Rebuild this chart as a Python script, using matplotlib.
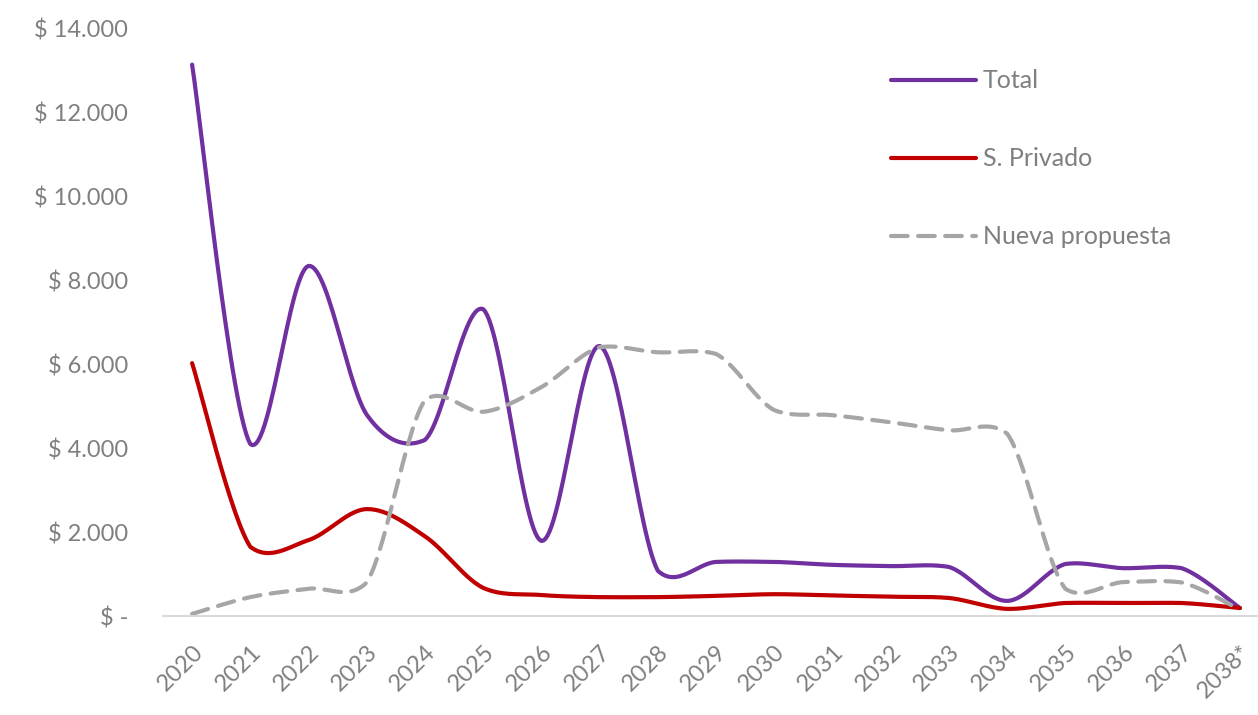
import numpy as np
import matplotlib.pyplot as plt

years = ['2020', '2021', '2022', '2023', '2024', '2025', '2026', '2027', '2028', '2029',
         '2030', '2031', '2032', '2033', '2034', '2035', '2036', '2037', '2038*']

total = [13150, 4100, 8350, 4800, 4200, 7320, 1790, 6440, 1080, 1290,
         1290, 1220, 1190, 1170, 360, 1240, 1140, 1140, 190]
privado = [6030, 1650, 1810, 2550, 1900, 670, 500, 450, 450, 480,
           520, 490, 460, 430, 170, 310, 310, 310, 190]
nueva = [50, 450, 650, 800, 5150, 4870, 5460, 6410, 6290, 6250,
         4910, 4790, 4620, 4430, 4350, 650, 810, 800, 150]

yticks = [0, 2000, 4000, 6000, 8000, 10000, 12000, 14000]
ytick_labels = ['$ -', '$ 2.000', '$ 4.000', '$ 6.000', '$ 8.000', '$ 10.000', '$ 12.000', '$ 14.000']

txt_color = '#7f7f7f'
plt.rcParams['font.family'] = ['Lato', 'DejaVu Sans']


def smooth(y, n=30, k=6.0, damp=0.5):
    # excel-like smoothed line: bezier segments with catmull-rom tangents,
    # control points pulled part way back into the segment range (less overshoot)
    x = np.arange(len(y), dtype=float)
    y = np.asarray(y, dtype=float)
    xs, ys = [], []
    for i in range(len(y) - 1):
        x0, y0 = (x[i - 1], y[i - 1]) if i > 0 else (x[i], y[i])
        x3, y3 = (x[i + 2], y[i + 2]) if i + 2 < len(y) else (x[i + 1], y[i + 1])
        p1 = np.array([x[i], y[i]])
        p2 = np.array([x[i + 1], y[i + 1]])
        c1 = p1 + (p2 - np.array([x0, y0])) / k
        c2 = p2 - (np.array([x3, y3]) - p1) / k
        lo, hi = min(y[i], y[i + 1]), max(y[i], y[i + 1])
        c1[1] = (1 - damp) * c1[1] + damp * np.clip(c1[1], lo, hi)
        c2[1] = (1 - damp) * c2[1] + damp * np.clip(c2[1], lo, hi)
        t = np.linspace(0, 1, n)[:, None]
        pts = (1 - t) ** 3 * p1 + 3 * (1 - t) ** 2 * t * c1 + 3 * (1 - t) * t ** 2 * c2 + t ** 3 * p2
        xs.extend(pts[:, 0])
        ys.extend(pts[:, 1])
    return np.array(xs), np.array(ys)


fig = plt.figure(figsize=(12.58, 7.15), dpi=100)
ax = fig.add_axes([163 / 1258, 99 / 715, 1095 / 1258, 587 / 715])

sx, sy = smooth(total)
ax.plot(sx, sy, color='#7030A0', lw=3, solid_capstyle='round', label='Total')
sx, sy = smooth(privado)
ax.plot(sx, sy, color='#C00000', lw=3, solid_capstyle='round', label='S. Privado')
sx, sy = smooth(nueva)
ax.plot(sx, sy, color='#A6A6A6', lw=3, ls=(0, (4, 2.5)), dash_capstyle='round', label='Nueva propuesta')

ax.set_xlim(-0.5, 18.31)
ax.set_ylim(0, 14000)

ax.set_xticks(range(len(years)))
ax.set_xticklabels(years, rotation=45, ha='right', rotation_mode='anchor', fontsize=17, color=txt_color)
ax.set_yticks(yticks)
ax.set_yticklabels(ytick_labels, fontsize=17, color=txt_color)
ax.tick_params(axis='both', length=0)
ax.tick_params(axis='y', pad=25)
ax.tick_params(axis='x', pad=18)

for s in ['top', 'right', 'left']:
    ax.spines[s].set_visible(False)
ax.spines['bottom'].set_color('#d9d9d9')
ax.spines['bottom'].set_linewidth(1.5)

leg = ax.legend(loc='upper left', bbox_to_anchor=(878 / 1258, 1 - 57 / 715), bbox_transform=fig.transFigure,
                frameon=False, fontsize=18, handlelength=3.4, handletextpad=0.3, labelspacing=2.2, borderpad=0)
for t in leg.get_texts():
    t.set_color(txt_color)

fig.savefig('out.png', dpi=100)
